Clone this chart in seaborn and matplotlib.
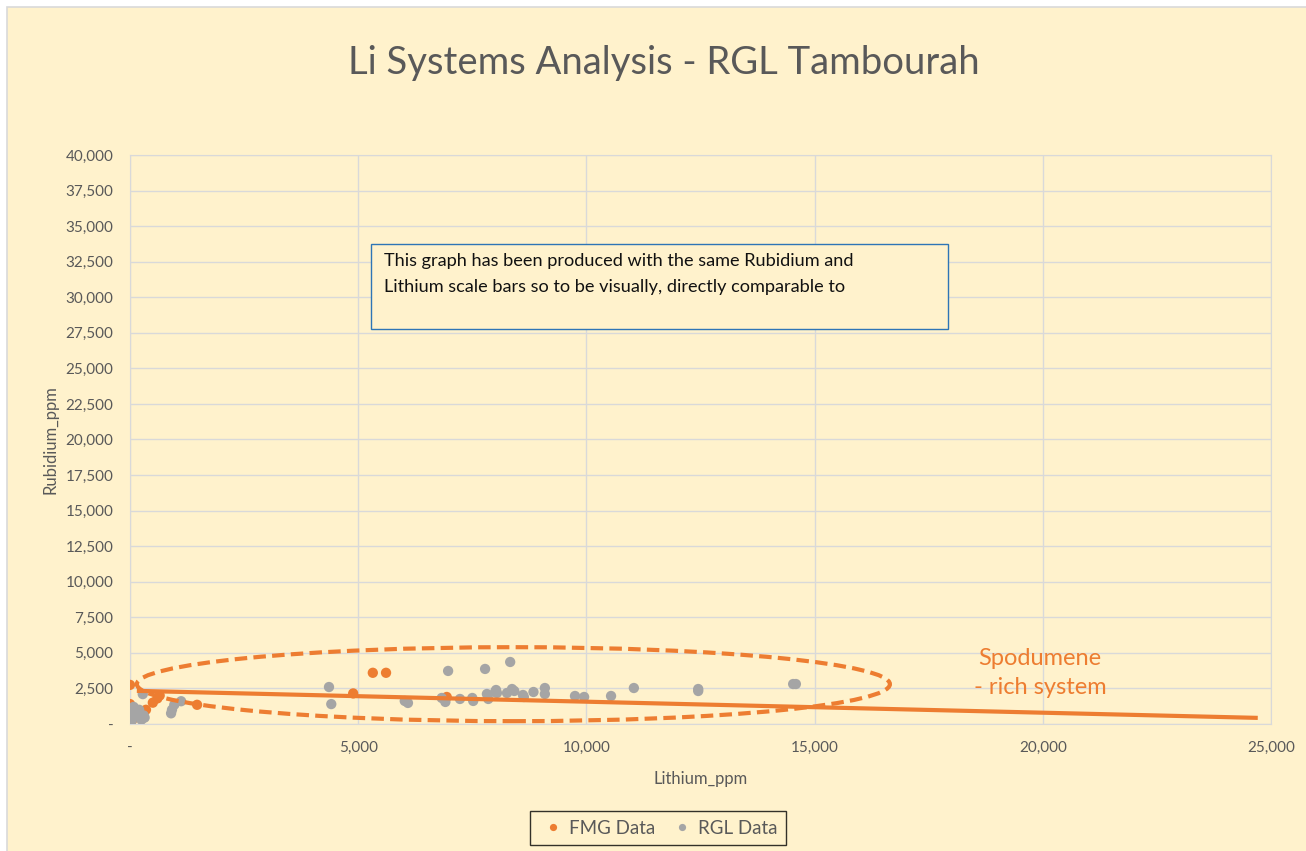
import numpy as np
import pandas as pd
import matplotlib
matplotlib.use('Agg')
import matplotlib.pyplot as plt
import seaborn as sns
from matplotlib.patches import Ellipse, Rectangle
from matplotlib.ticker import FuncFormatter, MultipleLocator

# FMG data (Lithium_ppm, Rubidium_ppm)
fmg_li = [0, 0, 0, 20, 50, 30, 350, 500, 600, 650, 1470, 4890, 5320, 5610, 6940]
fmg_rb = [2750, 1400, 1000, 600, 300, 1200, 1000, 1500, 1800, 2000, 1350, 2150, 3600, 3600, 1900]

# RGL data
rgl_li = [0, 20, 40, 60, 80, 100, 150, 200, 250, 300, 320, 280, 900, 920, 970, 1120,
          4360, 4410, 6020, 6090, 6830, 6910, 6970, 7230, 7500, 7520, 7780, 7820, 7850,
          8000, 8020, 8040, 8260, 8330, 8370, 8420, 8610, 8630, 8840, 9090, 9090,
          9750, 9950, 10540, 11040, 12450, 12450, 14530, 14590]
rgl_rb = [150, 400, 250, 900, 1200, 600, 800, 1000, 300, 600, 450, 2100, 750, 1000, 1350, 1600,
          2600, 1400, 1620, 1480, 1830, 1550, 3730, 1760, 1830, 1620, 3870, 2110, 1760,
          2250, 2390, 2180, 2180, 4360, 2460, 2320, 2040, 1900, 2250, 2530, 2110,
          1970, 1900, 1970, 2530, 2460, 2320, 2810, 2810]

# trend line end points
trend_li = [150, 24710]
trend_rb = [2330, 430]

orange = '#ED7D31'
grey = '#A5A5A5'
bg = '#FFF2CC'
txt = '#595959'

data = pd.DataFrame({
    'Lithium_ppm': fmg_li + rgl_li,
    'Rubidium_ppm': fmg_rb + rgl_rb,
    'series': ['FMG Data'] * len(fmg_li) + ['RGL Data'] * len(rgl_li),
})

sns.set_style('white')
plt.rcParams['font.family'] = ['Lato', 'DejaVu Sans']

fig = plt.figure(figsize=(13.06, 8.51), dpi=100)
fig.patch.set_facecolor('white')
fig.add_artist(Rectangle((7 / 1306, -0.01), 1.02, 1 - 7 / 851 + 0.01, transform=fig.transFigure,
                         facecolor=bg, edgecolor='#D9D9D9', lw=1.2, zorder=0))

ax = fig.add_axes([130 / 1306, 1 - 724 / 851, (1271 - 130) / 1306, (724 - 155) / 851])
ax.set_facecolor(bg)

sns.scatterplot(data=data, x='Lithium_ppm', y='Rubidium_ppm', hue='series',
                palette={'FMG Data': orange, 'RGL Data': grey}, s=55, linewidth=0,
                ax=ax, zorder=3)

ax.plot(trend_li, trend_rb, color=orange, lw=3, zorder=4, solid_capstyle='butt')

ax.add_patch(Ellipse((8400, 2800), 16500, 5200, fill=False, edgecolor=orange,
                     lw=3, ls=(0, (3, 1.5)), zorder=5))

ax.set_xlim(0, 25000)
ax.set_ylim(0, 40000)
ax.xaxis.set_major_locator(MultipleLocator(5000))
ax.yaxis.set_major_locator(MultipleLocator(2500))
fmt = FuncFormatter(lambda v, p: '-' if v == 0 else f'{int(v):,}')
ax.xaxis.set_major_formatter(fmt)
ax.yaxis.set_major_formatter(fmt)
ax.grid(True, color='#D9D9D9', lw=1)
ax.set_axisbelow(True)
for s in ax.spines.values():
    s.set_color('#D9D9D9')
ax.tick_params(axis='both', length=0, labelsize=11, colors=txt)
ax.tick_params(axis='x', pad=12)
ax.tick_params(axis='y', pad=12)

ax.set_xlabel('Lithium_ppm', fontsize=12, color=txt, labelpad=12)
ax.set_ylabel('Rubidium_ppm', fontsize=12, color=txt, labelpad=5)

fig.text(664 / 1306, 1 - 63 / 851, 'Li Systems Analysis - RGL Tambourah', ha='center', va='center',
         fontsize=27.5, color=txt)

# note box
fig.add_artist(Rectangle((371 / 1306, 1 - 329 / 851), (948 - 371) / 1306, (329 - 244) / 851,
                         transform=fig.transFigure, facecolor=bg, edgecolor='#2E75B6', lw=1, zorder=6))
fig.text(384 / 1306, 1 - 253 / 851,
         'This graph has been produced with the same Rubidium and\n'
         'Lithium scale bars so to be visually, directly comparable to',
         ha='left', va='top', fontsize=13.1, color='#111111', linespacing=1.8, zorder=7)

fig.text(1040 / 1306, 1 - 673 / 851, 'Spodumene\n- rich system', ha='center', va='center',
         fontsize=17, color=orange, linespacing=1.5)

sns.move_legend(ax, 'center', bbox_to_anchor=(658 / 1306, 1 - 828 / 851),
                bbox_transform=fig.transFigure, ncol=2, title=None, frameon=True,
                fontsize=13.5, handletextpad=0.1, columnspacing=0.7, borderpad=0.45,
                markerscale=0.7, handlelength=1.5)
leg = ax.get_legend()
leg.get_frame().set_edgecolor('black')
leg.get_frame().set_facecolor(bg)
leg.get_frame().set_linewidth(1)
leg.get_frame().set_boxstyle('square', pad=0)
for t in leg.get_texts():
    t.set_color(txt)

fig.savefig('out.png', dpi=100, facecolor=fig.get_facecolor())
